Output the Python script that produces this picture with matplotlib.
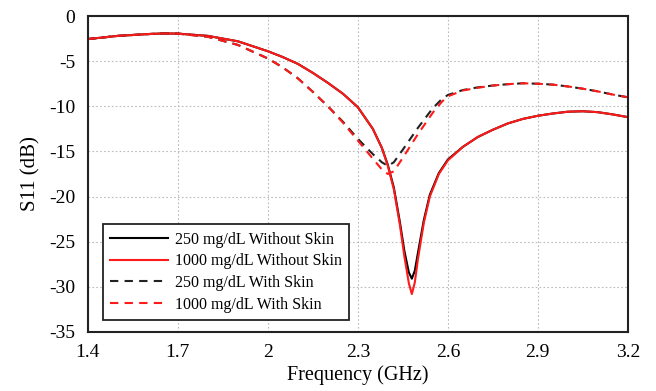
import matplotlib
matplotlib.use('Agg')
import matplotlib.pyplot as plt

plt.rcParams['font.family'] = ['Liberation Serif', 'DejaVu Serif']
plt.rcParams['axes.unicode_minus'] = False

# frequency (GHz) / S11 (dB)
f_solid = [1.40, 1.50, 1.60, 1.65, 1.70, 1.80, 1.90, 2.00, 2.05, 2.10, 2.15, 2.20, 2.25, 2.30,
           2.35, 2.38, 2.40, 2.42, 2.44, 2.455, 2.47, 2.48, 2.49, 2.50, 2.52,
           2.54, 2.57, 2.60, 2.65, 2.70, 2.75, 2.80, 2.85, 2.90, 2.95, 3.00, 3.05, 3.10, 3.15, 3.20]
s_250_noskin = [-2.55, -2.20, -2.00, -1.93, -1.95, -2.20, -2.80, -3.90, -4.55, -5.30, -6.30, -7.40, -8.60, -10.1,
                -12.5, -14.6, -16.5, -19.0, -22.8, -26.0, -28.4, -29.1, -28.2, -26.3, -22.6,
                -19.8, -17.4, -15.9, -14.5, -13.4, -12.6, -11.9, -11.4, -11.05, -10.8, -10.6, -10.55, -10.65, -10.9, -11.2]
s_1000_noskin = [-2.55, -2.20, -2.00, -1.93, -1.95, -2.20, -2.80, -3.90, -4.55, -5.30, -6.30, -7.40, -8.60, -10.1,
                 -12.5, -14.6, -16.6, -19.2, -23.1, -26.6, -29.6, -30.8, -29.5, -27.0, -22.9,
                 -20.0, -17.5, -16.0, -14.5, -13.4, -12.6, -11.9, -11.4, -11.05, -10.8, -10.6, -10.55, -10.65, -10.9, -11.2]

f_dash = [1.40, 1.50, 1.60, 1.65, 1.70, 1.80, 1.90, 2.00, 2.05, 2.10, 2.15, 2.20, 2.25, 2.30, 2.35,
          2.38, 2.40, 2.42, 2.45, 2.50, 2.55, 2.58, 2.60, 2.65, 2.70, 2.75, 2.80, 2.85,
          2.90, 2.95, 3.00, 3.05, 3.10, 3.15, 3.20]
s_250_skin = [-2.55, -2.20, -2.00, -1.93, -1.95, -2.30, -3.20, -4.70, -5.70, -6.90, -8.40, -10.0, -11.7, -13.6, -15.3,
              -16.2, -16.6, -16.2, -14.8, -12.4, -10.2, -9.2, -8.75, -8.2, -7.9, -7.7, -7.55, -7.45,
              -7.5, -7.6, -7.8, -8.05, -8.35, -8.7, -9.0]
s_1000_skin = [-2.55, -2.20, -2.00, -1.93, -1.95, -2.30, -3.20, -4.70, -5.70, -6.90, -8.40, -10.0, -11.8, -13.8, -15.8,
               -17.0, -17.5, -17.2, -15.7, -13.1, -10.7, -9.5, -8.9, -8.25, -7.95, -7.7, -7.55, -7.45,
               -7.5, -7.6, -7.8, -8.05, -8.35, -8.7, -9.0]

fig = plt.figure(figsize=(6.56, 3.91), dpi=100)
ax = fig.add_axes([0.134, 0.151, 0.823, 0.808])

ax.plot(f_solid, s_250_noskin, color='black', lw=1.5, label='250 mg/dL Without Skin')
ax.plot(f_solid, s_1000_noskin, color='#ff1a1a', lw=1.5, label='1000 mg/dL Without Skin')
ax.plot(f_dash, s_250_skin, color='#222222', lw=1.5, dashes=(4, 3), label='250 mg/dL With Skin')
ax.plot(f_dash, s_1000_skin, color='#ff1a1a', lw=1.5, dashes=(4, 3), label='1000 mg/dL With Skin')

ax.set_xlim(1.4, 3.2)
ax.set_ylim(-35, 0)
ax.set_xticks([1.4, 1.7, 2.0, 2.3, 2.6, 2.9, 3.2])
ax.set_xticklabels(['1.4', '1.7', '2', '2.3', '2.6', '2.9', '3.2'])
ax.set_yticks(range(-35, 1, 5))
ax.tick_params(length=0, labelsize=14, pad=9)
ax.grid(True, color='#bbbbbb', linestyle=(0, (1.5, 2)), lw=0.8)
for s in ax.spines.values():
    s.set_linewidth(1.5)
    s.set_color('#222222')

ax.set_xlabel('Frequency (GHz)', fontsize=14.5, labelpad=3)
ax.set_ylabel('S11 (dB)', fontsize=15, labelpad=6)

leg = ax.legend(loc='lower left', bbox_to_anchor=(0.028, 0.038), borderaxespad=0,
                fontsize=11.5, handlelength=3.6, handletextpad=0.45, fancybox=False,
                framealpha=1, edgecolor='#222222', labelspacing=0.36, borderpad=0.45)
leg.get_frame().set_linewidth(1.3)

fig.savefig('out.png', dpi=100)
